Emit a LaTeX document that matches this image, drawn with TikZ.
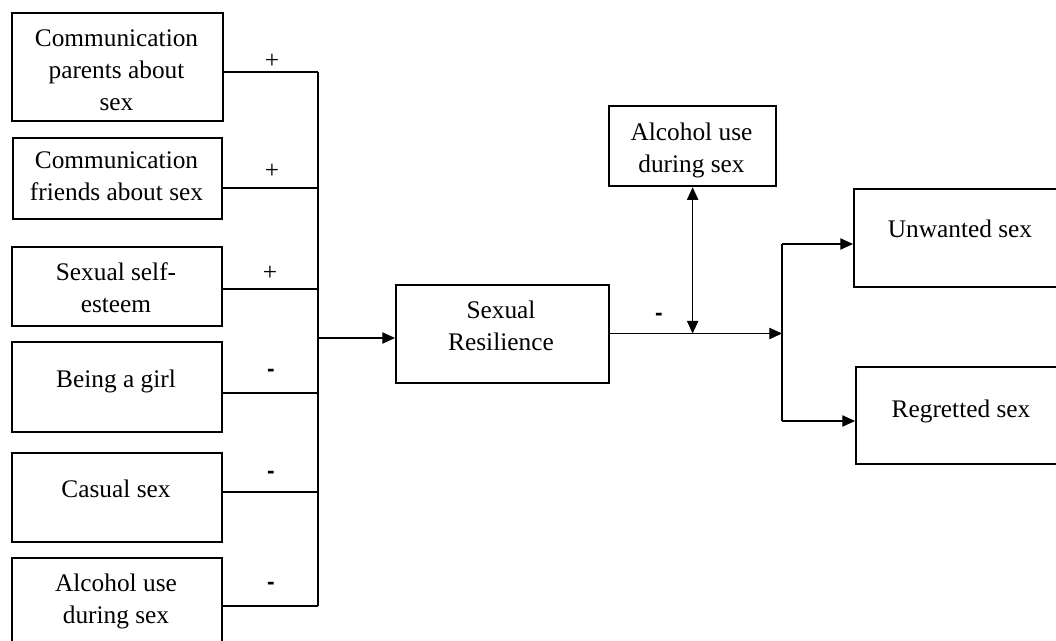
\documentclass[tikz,border=0pt]{standalone}
\usepackage{fontspec}
\setmainfont{Liberation Serif}
\setsansfont{Liberation Sans}
\usetikzlibrary{arrows.meta}
\tikzset{
  box/.style={draw, line width=1.7pt, inner sep=0pt, anchor=north west},
  txt/.style={anchor=north, align=center, inner sep=0pt, font=\fontsize{19}{23.8}\selectfont},
  lbl/.style={inner sep=0pt, font=\fontsize{19}{23.8}\selectfont},
  mlbl/.style={inner sep=0pt, font=\fontsize{17}{20}\selectfont\sffamily\bfseries},
  conn/.style={line width=0.8pt},
  arr/.style={line width=0.8pt, -{Triangle[length=9.5pt,width=8.5pt]}},
  darr/.style={line width=0.8pt, {Triangle[length=9.5pt,width=8.5pt]}-{Triangle[length=9.5pt,width=8.5pt]}}
}
\begin{document}
\begin{tikzpicture}[x=0.75pt,y=-0.75pt]
\useasboundingbox (0,0) rectangle (1056,641);
% left boxes
\node[box, minimum width=211*0.75pt, minimum height=108*0.75pt] (b1) at (11,12) {};
\node[box, minimum width=209*0.75pt, minimum height=81*0.75pt] (b2) at (12,137) {};
\node[box, minimum width=210*0.75pt, minimum height=79*0.75pt] (b3) at (11,246) {};
\node[box, minimum width=210*0.75pt, minimum height=90*0.75pt] (b4) at (11,341) {};
\node[box, minimum width=210*0.75pt, minimum height=89*0.75pt] (b5) at (11,452) {};
\node[box, minimum width=210*0.75pt, minimum height=95*0.75pt] (b6) at (11,557) {};
\node[txt] (t1) at (116.5,24.5) {\strut Communication\\parents about\\sex};
\node[txt] (t2) at (116.5,145.8) {\strut Communication\\friends about sex};
\node[txt] (t3) at (116,257.8) {\strut Sexual self-\\esteem};
\node[txt] (t4) at (116,364.8) {\strut Being a girl};
\node[txt] (t5) at (116,474.8) {\strut Casual sex};
\node[txt] (t6) at (116,568.8) {\strut Alcohol use\\during sex};
% middle and right boxes
\node[box, minimum width=213*0.75pt, minimum height=98*0.75pt] (sr) at (395,284) {};
\node[txt] (tsr) at (501,295.8) {\strut Sexual\\Resilience};
\node[box, minimum width=167*0.75pt, minimum height=80*0.75pt] (alc) at (608,105) {};
\node[txt] (talc) at (691.5,117.8) {\strut Alcohol use\\during sex};
\node[box, minimum width=220*0.75pt, minimum height=98*0.75pt] (uw) at (853,188) {};
\node[txt] (tuw) at (960,214.8) {\strut Unwanted sex};
\node[box, minimum width=220*0.75pt, minimum height=97*0.75pt] (rg) at (855,366) {};
\node[txt] (trg) at (961,394.8) {\strut Regretted sex};
% bus on the left
\coordinate (bus1) at (318,72);
\coordinate (bus2) at (318,188);
\coordinate (bus3) at (318,289);
\coordinate (bus4) at (318,393);
\coordinate (bus5) at (318,492);
\coordinate (bus6) at (318,606);
\coordinate (bus0) at (318,338);
\draw[conn] (b1.east |- bus1) -- (bus1);
\draw[conn] (b2.east |- bus2) -- (bus2);
\draw[conn] (b3.east |- bus3) -- (bus3);
\draw[conn] (b4.east |- bus4) -- (bus4);
\draw[conn] (b5.east |- bus5) -- (bus5);
\draw[conn] (b6.east |- bus6) -- (bus6);
\draw[conn] (bus1) -- (bus6);
\draw[arr] (bus0) -- (sr.west |- bus0);
% signs
\node[lbl] (p1) at (272,61) {+};
\node[lbl] (p2) at (272,171) {+};
\node[lbl] (p3) at (270,273) {+};
\node[mlbl] (m1) at (271,373) {-};
\node[mlbl] (m2) at (271,475) {-};
\node[mlbl] (m3) at (271,586) {-};
\node[mlbl] (m4) at (659,317) {-};
% right side
\coordinate (j) at (782,333.5);
\coordinate (ju) at (782,244);
\coordinate (jr) at (782,421);
\draw[arr] (sr.east |- j) -- (j);
\draw[darr] (alc.south) -- (alc.south |- j);
\draw[conn] (ju) -- (jr);
\draw[arr] (ju) -- (uw.west |- ju);
\draw[arr] (jr) -- (rg.west |- jr);
\end{tikzpicture}
\end{document}
